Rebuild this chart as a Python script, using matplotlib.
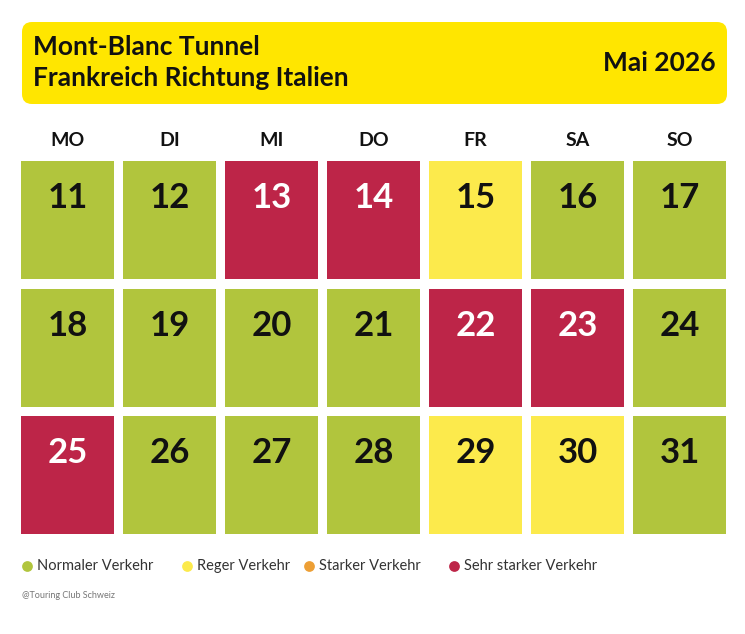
import matplotlib.pyplot as plt
from matplotlib.patches import FancyBboxPatch, Rectangle

TITLE = ["Mont-Blanc Tunnel", "Frankreich Richtung Italien"]
MONTH = "Mai 2026"
WEEKDAYS = ["MO", "DI", "MI", "DO", "FR", "SA", "SO"]
DAYS = list(range(11, 32))
# 0 normal, 1 reger, 2 starker, 3 sehr starker
LEVELS = [0, 0, 3, 3, 1, 0, 0,
          0, 0, 0, 0, 3, 3, 0,
          3, 0, 0, 0, 1, 1, 0]
LEGEND = ["Normaler Verkehr", "Reger Verkehr", "Starker Verkehr", "Sehr starker Verkehr"]
COLORS = ["#b1c53d", "#fcea4c", "#ed9f35", "#bd2548"]
CREDIT = "@Touring Club Schweiz"

plt.rcParams['font.family'] = ['Lato', 'DejaVu Sans']

W, H = 745, 634
fig = plt.figure(figsize=(W / 100, H / 100), dpi=100)
ax = fig.add_axes([0, 0, 1, 1])
ax.set_xlim(0, W)
ax.set_ylim(H, 0)
ax.axis('off')

# header
ax.add_patch(FancyBboxPatch((22, 22), 705, 82, boxstyle="round,pad=0,rounding_size=10",
                            fc="#ffe600", ec="none"))
ax.text(33, 47, TITLE[0], fontsize=19, fontweight='bold', va='center', color='#111111')
ax.text(33, 78, TITLE[1], fontsize=19, fontweight='bold', va='center', color='#111111')
ax.text(716, 63, MONTH, fontsize=19, fontweight='bold', va='center', ha='right', color='#111111')

x0, cw, step = 21, 93, 102
y0, ch, rstep = 161, 118, 127.5
for i, wd in enumerate(WEEKDAYS):
    ax.text(x0 + i * step + cw / 2, 141, wd, fontsize=14, fontweight='bold',
            ha='center', va='center', color='#111111')

for k, (d, lv) in enumerate(zip(DAYS, LEVELS)):
    r, c = divmod(k, 7)
    x = x0 + c * step
    y = y0 + r * rstep
    ax.add_patch(Rectangle((x, y), cw, ch, fc=COLORS[lv], ec='none'))
    ax.text(x + cw / 2, y + 37, str(d), fontsize=25, fontweight='bold', ha='center',
            va='center', color='white' if lv == 3 else '#111111')

lx = [27, 187, 309, 454]
for xx, lab, col in zip(lx, LEGEND, COLORS):
    ax.scatter([xx], [566], s=60, color=col, marker='o', linewidths=0)
    ax.text(xx + 10, 566, lab, fontsize=10.5, va='center', color='#333333')

ax.text(22, 596, CREDIT, fontsize=6.5, va='center', color='#777777')

fig.savefig("out.png", dpi=100, facecolor='white')
